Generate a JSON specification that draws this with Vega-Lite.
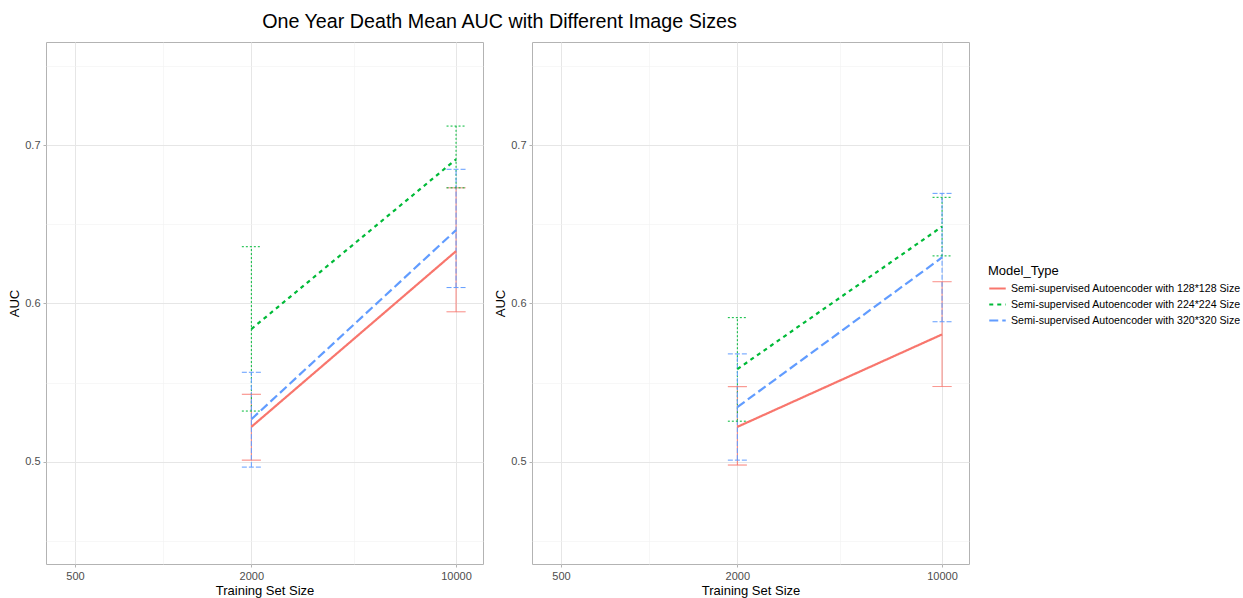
{
  "$schema": "https://vega.github.io/schema/vega-lite/v6.json",
  "padding": {"top": 11, "left": 8, "right": 5, "bottom": 2},
  "background": "white",
  "title": {"text": "One Year Death Mean AUC with Different Image Sizes", "anchor": "start", "dx": 254, "fontSize": 19.7, "font": "Liberation Sans", "fontWeight": "normal", "color": "#000000", "offset": 10},
  "config": {
    "font": "Liberation Sans",
    "view": {"stroke": "#b3b3b3", "strokeWidth": 1},
    "axis": {"domain": false, "labelFont": "Liberation Sans", "labelFontSize": 11, "labelColor": "#4d4d4d", "titleFont": "Liberation Sans", "titleFontSize": 13, "titleFontWeight": "normal", "titleColor": "#000000", "tickColor": "#b3b3b3", "tickSize": 3, "labelPadding": 3},
    "legend": {"labelFont": "Liberation Sans", "titleFont": "Liberation Sans", "labelFontSize": 10.6, "titleFontSize": 13, "titleFontWeight": "normal", "labelColor": "#000000", "titleColor": "#000000", "labelLimit": 400, "rowPadding": 0, "titlePadding": 1}
  },
  "data": {"values": [
    {"Panel": "A", "Size": 2000, "Model": "Semi-supervised Autoencoder with 128*128 Size", "AUC": 0.522, "Lower": 0.501, "Upper": 0.5426},
    {"Panel": "A", "Size": 10000, "Model": "Semi-supervised Autoencoder with 128*128 Size", "AUC": 0.633, "Lower": 0.5947, "Upper": 0.673},
    {"Panel": "A", "Size": 2000, "Model": "Semi-supervised Autoencoder with 224*224 Size", "AUC": 0.5838, "Lower": 0.532, "Upper": 0.6358},
    {"Panel": "A", "Size": 10000, "Model": "Semi-supervised Autoencoder with 224*224 Size", "AUC": 0.691, "Lower": 0.673, "Upper": 0.712},
    {"Panel": "A", "Size": 2000, "Model": "Semi-supervised Autoencoder with 320*320 Size", "AUC": 0.5268, "Lower": 0.4966, "Upper": 0.5565},
    {"Panel": "A", "Size": 10000, "Model": "Semi-supervised Autoencoder with 320*320 Size", "AUC": 0.6463, "Lower": 0.61, "Upper": 0.6847},
    {"Panel": "B", "Size": 2000, "Model": "Semi-supervised Autoencoder with 128*128 Size", "AUC": 0.522, "Lower": 0.4979, "Upper": 0.5474},
    {"Panel": "B", "Size": 10000, "Model": "Semi-supervised Autoencoder with 128*128 Size", "AUC": 0.5804, "Lower": 0.5475, "Upper": 0.6137},
    {"Panel": "B", "Size": 2000, "Model": "Semi-supervised Autoencoder with 224*224 Size", "AUC": 0.5585, "Lower": 0.5256, "Upper": 0.591},
    {"Panel": "B", "Size": 10000, "Model": "Semi-supervised Autoencoder with 224*224 Size", "AUC": 0.6485, "Lower": 0.63, "Upper": 0.667},
    {"Panel": "B", "Size": 2000, "Model": "Semi-supervised Autoencoder with 320*320 Size", "AUC": 0.5345, "Lower": 0.501, "Upper": 0.5681},
    {"Panel": "B", "Size": 10000, "Model": "Semi-supervised Autoencoder with 320*320 Size", "AUC": 0.629, "Lower": 0.5884, "Upper": 0.6695}
  ]},
  "facet": {"column": {"field": "Panel", "type": "nominal", "header": {"title": null, "labels": false}}},
  "spacing": 10,
  "resolve": {"axis": {"x": "independent", "y": "independent"}},
  "spec": {
    "width": 437,
    "height": 522,
    "encoding": {
      "x": {"field": "Size", "type": "quantitative", "title": "Training Set Size",
        "scale": {"type": "log", "domain": [398, 12360], "nice": false},
        "axis": {"values": [500, 1000, 2000, 4472, 10000], "labelExpr": "(datum.value == 1000 || datum.value == 4472) ? '' : format(datum.value, 'd')",
          "gridColor": {"condition": {"test": "datum.value == 1000 || datum.value == 4472", "value": "#f2f2f2"}, "value": "#e6e6e6"},
          "gridWidth": {"condition": {"test": "datum.value == 1000 || datum.value == 4472", "value": 0.6}, "value": 1},
          "tickOpacity": {"condition": {"test": "datum.value == 1000 || datum.value == 4472", "value": 0}, "value": 1},
          "titlePadding": 3}},
      "color": {"field": "Model", "type": "nominal", "title": "Model_Type",
        "scale": {"domain": ["Semi-supervised Autoencoder with 128*128 Size", "Semi-supervised Autoencoder with 224*224 Size", "Semi-supervised Autoencoder with 320*320 Size"], "range": ["#F8766D", "#00BA38", "#619CFF"]},
        "legend": {"orient": "none", "legendX": 942, "legendY": 223, "symbolType": "stroke", "symbolStrokeWidth": 2, "symbolSize": 272}}
    },
    "layer": [
      {
        "mark": {"type": "rule", "strokeWidth": 1},
        "encoding": {
          "y": {"field": "Lower", "type": "quantitative"},
          "y2": {"field": "Upper"},
          "strokeDash": {"condition": [
            {"test": "indexof(datum.Model, '224') >= 0", "value": [2, 2]},
            {"test": "indexof(datum.Model, '320') >= 0", "value": [5, 2]}], "value": [1, 0]}
        }
      },
      {
        "mark": {"type": "rule", "strokeWidth": 1, "xOffset": -9.5, "x2Offset": 9.5},
        "encoding": {
          "x2": {"field": "Size"},
          "y": {"field": "Upper", "type": "quantitative"},
          "strokeDash": {"condition": [
            {"test": "indexof(datum.Model, '224') >= 0", "value": [2, 2]},
            {"test": "indexof(datum.Model, '320') >= 0", "value": [5, 2]}], "value": [1, 0]}
        }
      },
      {
        "mark": {"type": "rule", "strokeWidth": 1, "xOffset": -9.5, "x2Offset": 9.5},
        "encoding": {
          "x2": {"field": "Size"},
          "y": {"field": "Lower", "type": "quantitative"},
          "strokeDash": {"condition": [
            {"test": "indexof(datum.Model, '224') >= 0", "value": [2, 2]},
            {"test": "indexof(datum.Model, '320') >= 0", "value": [5, 2]}], "value": [1, 0]}
        }
      },
      {
        "mark": {"type": "line", "strokeWidth": 2.2},
        "encoding": {
          "y": {"field": "AUC", "type": "quantitative", "title": "AUC",
            "scale": {"domain": [0.4354, 0.7651], "nice": false, "zero": false},
            "axis": {"values": [0.45, 0.5, 0.55, 0.6, 0.65, 0.7, 0.75], "labelExpr": "(datum.value == 0.45 || datum.value == 0.55 || datum.value == 0.65 || datum.value == 0.75) ? '' : format(datum.value, '.1f')",
              "gridColor": {"condition": {"test": "datum.value == 0.45 || datum.value == 0.55 || datum.value == 0.65 || datum.value == 0.75", "value": "#f2f2f2"}, "value": "#e6e6e6"},
              "gridWidth": {"condition": {"test": "datum.value == 0.45 || datum.value == 0.55 || datum.value == 0.65 || datum.value == 0.75", "value": 0.6}, "value": 1},
              "tickOpacity": {"condition": {"test": "datum.value == 0.45 || datum.value == 0.55 || datum.value == 0.65 || datum.value == 0.75", "value": 0}, "value": 1},
              "titlePadding": 3}},
          "strokeDash": {"field": "Model", "type": "nominal", "title": "Model_Type",
            "scale": {"domain": ["Semi-supervised Autoencoder with 128*128 Size", "Semi-supervised Autoencoder with 224*224 Size", "Semi-supervised Autoencoder with 320*320 Size"], "range": [[1, 0], [4, 4], [9, 4]]},
            "legend": {"orient": "none", "legendX": 942, "legendY": 223, "symbolType": "stroke", "symbolStrokeWidth": 2, "symbolSize": 272}}
        }
      }
    ]
  }
}
